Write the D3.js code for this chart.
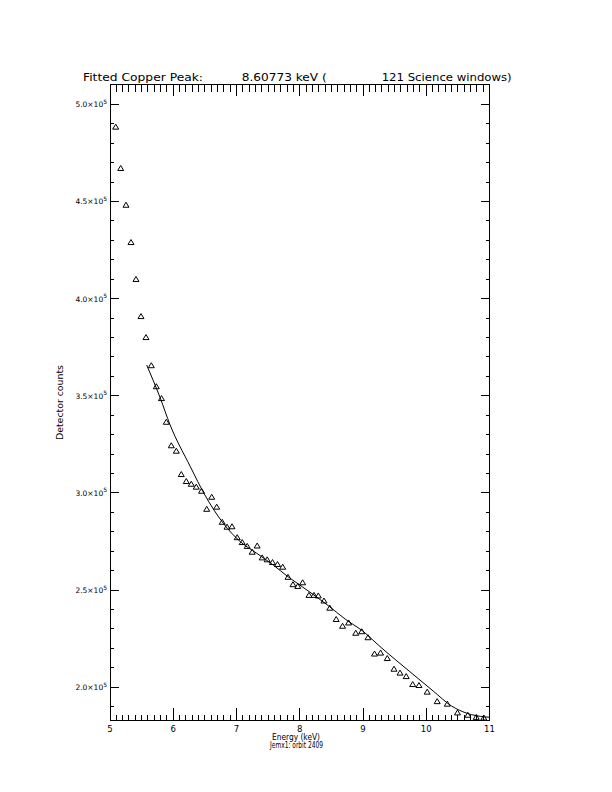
<!DOCTYPE html>
<html>
<head>
<meta charset="utf-8">
<script src="https://cdn.jsdelivr.net/npm/d3@7"></script>
<style>
  html, body { margin: 0; padding: 0; background: #fff; }
  svg { display: block; }
  text { font-family: "DejaVu Sans", "Liberation Sans", sans-serif; fill: #000; }
</style>
</head>
<body>
<svg id="chart" width="612" height="792"></svg>
<script>
// ---- data ----
const energy = [5.090, 5.169, 5.253, 5.332, 5.411, 5.490, 5.569, 5.653, 5.732, 5.814,
  5.890, 5.969, 6.048, 6.127, 6.206, 6.285, 6.364, 6.447, 6.529, 6.608,
  6.687, 6.774, 6.850, 6.929, 7.011, 7.090, 7.169, 7.248, 7.327, 7.406,
  7.485, 7.569, 7.648, 7.730, 7.814, 7.893, 7.969, 8.045, 8.146, 8.225,
  8.293, 8.383, 8.475, 8.576, 8.677, 8.772, 8.885, 8.980, 9.079, 9.182,
  9.278, 9.384, 9.490, 9.585, 9.683, 9.786, 9.885, 10.015, 10.173, 10.333,
  10.494, 10.657, 10.79, 10.91];
const counts = [4.885e5, 4.672e5, 4.483e5, 4.291e5, 4.101e5, 3.910e5, 3.802e5, 3.657e5, 3.549e5, 3.488e5,
  3.366e5, 3.245e5, 3.217e5, 3.097e5, 3.061e5, 3.047e5, 3.032e5, 3.011e5, 2.918e5, 2.980e5,
  2.929e5, 2.851e5, 2.826e5, 2.828e5, 2.772e5, 2.747e5, 2.727e5, 2.697e5, 2.729e5, 2.668e5,
  2.658e5, 2.644e5, 2.634e5, 2.620e5, 2.568e5, 2.530e5, 2.521e5, 2.540e5, 2.475e5, 2.475e5,
  2.472e5, 2.446e5, 2.409e5, 2.351e5, 2.316e5, 2.333e5, 2.280e5, 2.288e5, 2.257e5, 2.173e5,
  2.178e5, 2.150e5, 2.095e5, 2.075e5, 2.057e5, 2.016e5, 2.011e5, 1.977e5, 1.928e5, 1.915e5,
  1.870e5, 1.858e5, 1.847e5, 1.844e5];
const fitEnergy = [5.58, 5.79, 5.95, 6.27, 6.50, 6.79, 7.06, 7.32, 7.58, 7.82, 8.00,
  8.45, 8.72, 8.99, 9.30, 9.74, 10.11, 10.40, 10.64, 10.93, 11.0];
const fitCounts = [3.658e5, 3.492e5, 3.350e5, 3.135e5, 2.989e5, 2.844e5, 2.749e5, 2.689e5, 2.629e5, 2.567e5, 2.526e5,
  2.420e5, 2.350e5, 2.290e5, 2.200e5, 2.080e5, 1.980e5, 1.903e5, 1.866e5, 1.847e5, 1.845e5];
const xTicks = [5, 6, 7, 8, 9, 10, 11];
const xTickLabels = ["5", "6", "7", "8", "9", "10", "11"];
const yTicks = [2.0e5, 2.5e5, 3.0e5, 3.5e5, 4.0e5, 4.5e5, 5.0e5];
const yTickLabels = ["2.0", "2.5", "3.0", "3.5", "4.0", "4.5", "5.0"];
const xDomain = [5, 11];
const yDomain = [1.831e5, 5.1045e5];
const titleParts = ["Fitted Copper Peak:", "8.60773 keV (", "121 Science windows)"];
const xTitle = "Energy (keV)";
const subTitle = "Jemx1: orbit 2409";
const yTitle = "Detector counts";

// ---- layout ----
const L = 110, R = 489.5, T = 84, B = 720;
const svg = d3.select("#chart");
const x = d3.scaleLinear().domain(xDomain).range([L, R]);
const y = d3.scaleLinear().domain(yDomain).range([B, T]);

const g = svg.append("g").attr("shape-rendering", "crispEdges");

// frame
g.append("rect").attr("x", L).attr("y", T).attr("width", R - L).attr("height", B - T)
  .attr("fill", "none").attr("stroke", "#000").attr("stroke-width", 1);

// x minor/major ticks (bottom & top)
const xMinor = d3.range(50, 111).map(v => v / 10);
xMinor.forEach(v => {
  const major = Math.abs(v - Math.round(v)) < 1e-9;
  const len = major ? 12 : 5;
  g.append("line").attr("x1", x(v)).attr("x2", x(v)).attr("y1", B).attr("y2", B - len).attr("stroke", "#000");
  g.append("line").attr("x1", x(v)).attr("x2", x(v)).attr("y1", T).attr("y2", T + (major ? 12 : 8)).attr("stroke", "#000");
});
// y minor/major ticks (left & right)
const yMinor = d3.range(19, 52).map(v => v * 1e4);
yMinor.forEach(v => {
  if (v < yDomain[0] || v > yDomain[1]) return;
  const major = (v % 5e4) === 0;
  const len = major ? 9 : 4;
  g.append("line").attr("x1", L).attr("x2", L + len).attr("y1", y(v)).attr("y2", y(v)).attr("stroke", "#000");
  g.append("line").attr("x1", R).attr("x2", R - len).attr("y1", y(v)).attr("y2", y(v)).attr("stroke", "#000");
});

// x tick labels
svg.append("g").selectAll("text").data(xTicks).join("text")
  .attr("x", d => x(d)).attr("y", 732)
  .attr("text-anchor", "middle").attr("font-size", 8.5)
  .text((d, i) => xTickLabels[i]);

// y tick labels
const yl = svg.append("g").selectAll("text").data(yTicks).join("text")
  .attr("x", 107).attr("y", d => y(d) + 3)
  .attr("text-anchor", "end").attr("font-size", 7.5);
yl.append("tspan").text((d, i) => yTickLabels[i] + "\u00d710");
yl.append("tspan").attr("dy", -3.5).attr("font-size", 6).text("5");

// titles
const titleX = [83, 241.7, 381.7];
const titleW = [120, 85, 130];
svg.append("g").selectAll("text").data(titleParts).join("text")
  .attr("x", (d, i) => titleX[i]).attr("y", 80.5)
  .attr("font-size", 11)
  .attr("textLength", (d, i) => titleW[i]).attr("lengthAdjust", "spacingAndGlyphs")
  .text(d => d);

svg.append("text").attr("x", 296).attr("y", 740).attr("text-anchor", "middle")
  .attr("font-size", 8).attr("textLength", 48).attr("lengthAdjust", "spacingAndGlyphs").text(xTitle);
svg.append("text").attr("x", 296.5).attr("y", 748).attr("text-anchor", "middle")
  .attr("font-size", 8).attr("textLength", 53).attr("lengthAdjust", "spacingAndGlyphs").text(subTitle);
svg.append("text").attr("transform", "translate(63,402.5) rotate(-90)").attr("text-anchor", "middle")
  .attr("font-size", 9).attr("textLength", 75).attr("lengthAdjust", "spacingAndGlyphs").text(yTitle);

// fit line
const fit = fitEnergy.map((e, i) => [e, fitCounts[i]]);
svg.append("path").datum(fit)
  .attr("d", d3.line().x(d => x(d[0])).y(d => y(d[1])).curve(d3.curveMonotoneX))
  .attr("fill", "none").attr("stroke", "#000").attr("stroke-width", 1);

// data triangles
const pts = energy.map((e, i) => [e, counts[i]]);
svg.append("g").selectAll("path").data(pts).join("path")
  .attr("transform", d => `translate(${x(d[0])},${y(d[1])})`)
  .attr("d", "M-3,2.5L0,-2.5L3,2.5Z")
  .attr("fill", "none").attr("stroke", "#000").attr("stroke-width", 1);
</script>
</body>
</html>
